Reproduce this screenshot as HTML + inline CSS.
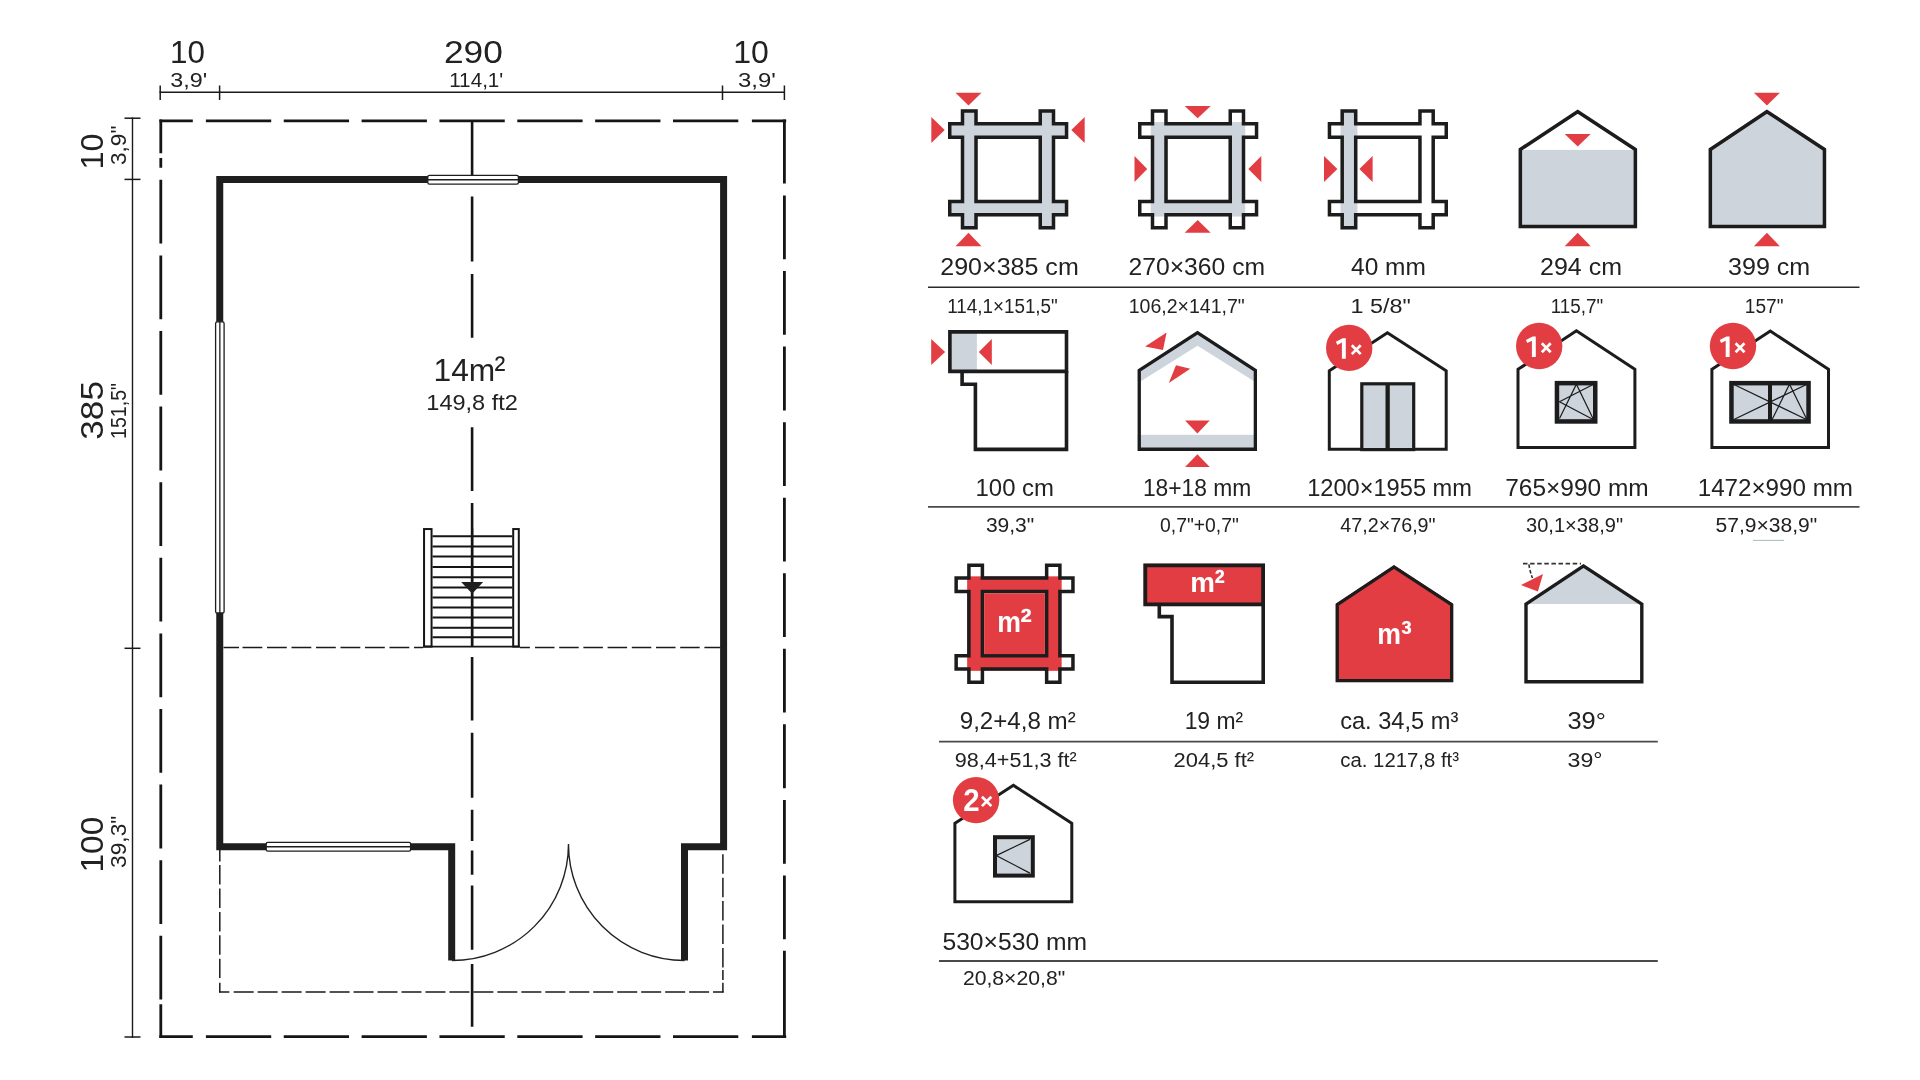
<!DOCTYPE html>
<html><head><meta charset="utf-8"><title>Floor plan</title>
<style>html,body{margin:0;padding:0;background:#fff;width:1920px;height:1080px;overflow:hidden}svg{display:block;will-change:transform}text{font-family:"Liberation Sans",sans-serif}</style>
</head><body><svg width="1920" height="1080" viewBox="0 0 1920 1080" font-family="Liberation Sans, sans-serif"><defs><clipPath id="c1"><path d="M960.75 109.3 L977.75 109.3 L977.75 122.05 L1038.5 122.05 L1038.5 109.3 L1055.25 109.3 L1055.25 122.05 L1068.3 122.05 L1068.3 139.05 L1055.25 139.05 L1055.25 199.8 L1068.3 199.8 L1068.3 216.55 L1055.25 216.55 L1055.25 229.6 L1038.5 229.6 L1038.5 216.55 L977.75 216.55 L977.75 229.6 L960.75 229.6 L960.75 216.55 L948 216.55 L948 199.8 L960.75 199.8 L960.75 139.05 L948 139.05 L948 122.05 L960.75 122.05ZM977.75 139.05H1038.5V199.8H977.75Z" clip-rule="evenodd"/></clipPath><clipPath id="c2"><path d="M1150.75 109.3 L1167.75 109.3 L1167.75 122.05 L1228.5 122.05 L1228.5 109.3 L1245.25 109.3 L1245.25 122.05 L1258.3 122.05 L1258.3 139.05 L1245.25 139.05 L1245.25 199.8 L1258.3 199.8 L1258.3 216.55 L1245.25 216.55 L1245.25 229.6 L1228.5 229.6 L1228.5 216.55 L1167.75 216.55 L1167.75 229.6 L1150.75 229.6 L1150.75 216.55 L1138 216.55 L1138 199.8 L1150.75 199.8 L1150.75 139.05 L1138 139.05 L1138 122.05 L1150.75 122.05ZM1167.75 139.05H1228.5V199.8H1167.75Z" clip-rule="evenodd"/></clipPath><clipPath id="c3"><path d="M1340.45 109.3 L1357.45 109.3 L1357.45 122.05 L1418.2 122.05 L1418.2 109.3 L1434.95 109.3 L1434.95 122.05 L1448 122.05 L1448 139.05 L1434.95 139.05 L1434.95 199.8 L1448 199.8 L1448 216.55 L1434.95 216.55 L1434.95 229.6 L1418.2 229.6 L1418.2 216.55 L1357.45 216.55 L1357.45 229.6 L1340.45 229.6 L1340.45 216.55 L1327.7 216.55 L1327.7 199.8 L1340.45 199.8 L1340.45 139.05 L1327.7 139.05 L1327.7 122.05 L1340.45 122.05ZM1357.45 139.05H1418.2V199.8H1357.45Z" clip-rule="evenodd"/></clipPath><clipPath id="c4"><path d="M1577.7 109.5L1637.1 148.5V228.3H1518.6V148.5Z" clip-rule="evenodd"/></clipPath><clipPath id="c5"><path d="M1766.9 109.5L1826.2 148.5V228.3H1708.6V148.5Z" clip-rule="evenodd"/></clipPath><clipPath id="c6"><path d="M948.1 330.1H1068.3V373.2H948.1Z" clip-rule="evenodd"/></clipPath><clipPath id="c7"><path d="M1197.5 330.8L1257 369.5V450.9H1137.6V369.5Z" clip-rule="evenodd"/></clipPath><clipPath id="c8"><path d="M1387.4 331L1447.7 369.9V450.7H1327.8V369.9Z" clip-rule="evenodd"/></clipPath><clipPath id="c9"><path d="M1576.4 329.1L1636.4 368.6V449H1516.5V368.6Z" clip-rule="evenodd"/></clipPath><clipPath id="c10"><path d="M1770.3 329.3L1830 368.6V449H1710.4V368.6Z" clip-rule="evenodd"/></clipPath><clipPath id="c11"><path d="M967.15 563.6 L984.15 563.6 L984.15 576.35 L1044.9 576.35 L1044.9 563.6 L1061.65 563.6 L1061.65 576.35 L1074.7 576.35 L1074.7 593.35 L1061.65 593.35 L1061.65 654.1 L1074.7 654.1 L1074.7 670.85 L1061.65 670.85 L1061.65 683.9 L1044.9 683.9 L1044.9 670.85 L984.15 670.85 L984.15 683.9 L967.15 683.9 L967.15 670.85 L954.4 670.85 L954.4 654.1 L967.15 654.1 L967.15 593.35 L954.4 593.35 L954.4 576.35 L967.15 576.35ZM984.15 593.35H1044.9V654.1H984.15Z" clip-rule="evenodd"/></clipPath><clipPath id="c12"><path d="M1143.4 563.4H1265V606.2H1143.4Z" clip-rule="evenodd"/></clipPath><clipPath id="c13"><path d="M1394 565.1L1453.3 603.8V682.2H1335.6V603.8Z" clip-rule="evenodd"/></clipPath><clipPath id="c14"><path d="M1583.5 564L1643.5 603.2V683.5H1524.3V603.2Z" clip-rule="evenodd"/></clipPath><clipPath id="c15"><path d="M1013.4 783.6L1073.3 822.5V903.3H953.4V822.5Z" clip-rule="evenodd"/></clipPath></defs><line x1="159.5" y1="92.2" x2="785" y2="92.2" stroke="#1a1a1a" stroke-width="1.4" stroke-linecap="butt"/><line x1="160.2" y1="85.5" x2="160.2" y2="100" stroke="#1a1a1a" stroke-width="1.5" stroke-linecap="butt"/><line x1="219.6" y1="85.5" x2="219.6" y2="100" stroke="#1a1a1a" stroke-width="1.5" stroke-linecap="butt"/><line x1="722.5" y1="85.5" x2="722.5" y2="100" stroke="#1a1a1a" stroke-width="1.5" stroke-linecap="butt"/><line x1="784.4" y1="85.5" x2="784.4" y2="100" stroke="#1a1a1a" stroke-width="1.5" stroke-linecap="butt"/><line x1="132.5" y1="117.5" x2="132.5" y2="1038" stroke="#1a1a1a" stroke-width="1.4" stroke-linecap="butt"/><line x1="124.5" y1="118.2" x2="140.5" y2="118.2" stroke="#1a1a1a" stroke-width="1.5" stroke-linecap="butt"/><line x1="124.5" y1="179.4" x2="140.5" y2="179.4" stroke="#1a1a1a" stroke-width="1.5" stroke-linecap="butt"/><line x1="124.5" y1="648.3" x2="140.5" y2="648.3" stroke="#1a1a1a" stroke-width="1.5" stroke-linecap="butt"/><line x1="124.5" y1="1037" x2="140.5" y2="1037" stroke="#1a1a1a" stroke-width="1.5" stroke-linecap="butt"/><path d="M159.4 120.8H192.8 M205.9 120.8H271.2 M283.75 120.8H349.05 M361.6 120.8H426.9 M439.45 120.8H504.75 M517.3 120.8H582.6 M595.15 120.8H660.45 M673 120.8H738.3 M751.9 120.8H786.2" stroke="#151515" stroke-width="2.8" fill="none"/><path d="M159.4 1036.7H192.8 M205.9 1036.7H271.2 M283.75 1036.7H349.05 M361.6 1036.7H426.9 M439.45 1036.7H504.75 M517.3 1036.7H582.6 M595.15 1036.7H660.45 M673 1036.7H738.3 M751.9 1036.7H786.2" stroke="#151515" stroke-width="2.8" fill="none"/><path d="M160.8 119.4V153.3 M160.8 158.1V167.8 M160.8 179.8V243.6 M160.8 255.4V319.2 M160.8 331V394.8 M160.8 406.6V470.4 M160.8 482.2V546 M160.8 557.8V621.6 M160.8 633.4V697.2 M160.8 709V772.8 M160.8 784.6V848.4 M160.8 860.2V924 M160.8 935.8V999.6 M160.8 1004.3V1038.1" stroke="#151515" stroke-width="2.8" fill="none"/><path d="M784.4 119.4V183.4 M784.4 195.5V259.3 M784.4 271.05V334.85 M784.4 346.6V410.4 M784.4 422.15V485.95 M784.4 497.7V561.5 M784.4 573.25V637.05 M784.4 648.8V712.6 M784.4 724.35V788.15 M784.4 799.9V863.7 M784.4 875.45V939.25 M784.4 950.8V1038.1" stroke="#151515" stroke-width="2.8" fill="none"/><path d="M472.1 120.8V175.5 M472.1 196.4V261.4 M472.1 273.9V337.7 M472.1 427.2V491 M472.1 503V646.5 M472.1 656.9V720.6 M472.1 732.7V797.7 M472.1 809.7V841 M472.1 850.6V874.7 M472.1 885.5V949.7 M472.1 964V1026.7" stroke="#151515" stroke-width="2.6" fill="none"/><path d="M223.5 647.5H239 M242.5 647.5H262.3 M267 647.5H286.8 M291.5 647.5H311.3 M316 647.5H335.8 M340.5 647.5H360.3 M365 647.5H384.8 M389.5 647.5H409.3 M414 647.5H423 M520 647.5H529.9 M535 647.5H554.5 M559.2 647.5H578.7 M583.4 647.5H602.9 M607.6 647.5H627.1 M631.8 647.5H651.3 M656 647.5H675.5 M680.2 647.5H699.7 M704.4 647.5H720.5" stroke="#1a1a1a" stroke-width="1.5" fill="none"/><path d="M219.8 850V861.5 M219.8 865.1V884.6 M219.8 888.5V908 M219.8 911.9V931.4 M219.8 935.3V954.8 M219.8 958.7V978 M219.8 982.8V992.6" stroke="#1a1a1a" stroke-width="1.5" fill="none"/><path d="M722.9 854.3V873.8 M722.9 877.7V897.2 M722.9 901.1V920.6 M722.9 924.5V944 M722.9 947.9V967.4 M722.9 969.9V979.9 M722.9 982.8V992.6" stroke="#1a1a1a" stroke-width="1.5" fill="none"/><path d="M219.1 991.9H229.3 M233.7 991.9H253.7 M257.67 991.9H277.67 M281.64 991.9H301.64 M305.61 991.9H325.61 M329.58 991.9H349.58 M353.55 991.9H373.55 M377.52 991.9H397.52 M401.49 991.9H421.49 M425.46 991.9H445.46 M449.43 991.9H469.43 M473.4 991.9H493.4 M497.37 991.9H517.37 M521.34 991.9H541.34 M545.31 991.9H565.31 M569.28 991.9H589.28 M593.25 991.9H613.25 M617.22 991.9H637.22 M641.19 991.9H661.19 M665.16 991.9H685.16 M689.13 991.9H709.13 M713 991.9H723.6" stroke="#1a1a1a" stroke-width="1.5" fill="none"/><path d="M451.7 960.5V846.7H219.75V179.4H723.6V846.7H684.5V960.5" fill="none" stroke="#1e1e1e" stroke-width="7" stroke-linejoin="miter"/><rect x="427.8" y="175.3" width="90.6" height="8.9" rx="1.6" fill="#fff" stroke="#1e1e1e" stroke-width="1.3"/><line x1="427.8" y1="179.75" x2="518.4" y2="179.75" stroke="#1e1e1e" stroke-width="1.3" stroke-linecap="butt"/><rect x="215.6" y="321.8" width="8.5" height="291.2" rx="1.6" fill="#fff" stroke="#1e1e1e" stroke-width="1.3"/><line x1="219.85" y1="321.8" x2="219.85" y2="613" stroke="#1e1e1e" stroke-width="1.3" stroke-linecap="butt"/><rect x="266.2" y="842.4" width="144.4" height="8.7" rx="1.6" fill="#fff" stroke="#1e1e1e" stroke-width="1.3"/><line x1="266.2" y1="846.75" x2="410.6" y2="846.75" stroke="#1e1e1e" stroke-width="1.3" stroke-linecap="butt"/><path d="M452 960.5A116.5 116.5 0 0 0 568.5 844M568.5 844A116 116 0 0 0 684.5 960.5" fill="none" stroke="#222" stroke-width="1.4"/><rect x="424.05" y="529.05" width="7.5" height="117.5" fill="#fff" stroke="#151515" stroke-width="2"/><rect x="513.2" y="529.05" width="5.6" height="117.5" fill="#fff" stroke="#151515" stroke-width="2"/><line x1="432.5" y1="536.25" x2="512.3" y2="536.25" stroke="#151515" stroke-width="2" stroke-linecap="butt"/><line x1="432.5" y1="546.5" x2="512.3" y2="546.5" stroke="#151515" stroke-width="2" stroke-linecap="butt"/><line x1="432.5" y1="556.6" x2="512.3" y2="556.6" stroke="#151515" stroke-width="2" stroke-linecap="butt"/><line x1="432.5" y1="566.9" x2="512.3" y2="566.9" stroke="#151515" stroke-width="2" stroke-linecap="butt"/><line x1="432.5" y1="577.25" x2="512.3" y2="577.25" stroke="#151515" stroke-width="2" stroke-linecap="butt"/><line x1="432.5" y1="587.5" x2="512.3" y2="587.5" stroke="#151515" stroke-width="2" stroke-linecap="butt"/><line x1="432.5" y1="597.5" x2="512.3" y2="597.5" stroke="#151515" stroke-width="2" stroke-linecap="butt"/><line x1="432.5" y1="607.5" x2="512.3" y2="607.5" stroke="#151515" stroke-width="2" stroke-linecap="butt"/><line x1="432.5" y1="617.5" x2="512.3" y2="617.5" stroke="#151515" stroke-width="2" stroke-linecap="butt"/><line x1="432.5" y1="627.75" x2="512.3" y2="627.75" stroke="#151515" stroke-width="2" stroke-linecap="butt"/><line x1="432.5" y1="637.25" x2="512.3" y2="637.25" stroke="#151515" stroke-width="2" stroke-linecap="butt"/><line x1="423" y1="646.6" x2="520" y2="646.6" stroke="#151515" stroke-width="1.9" stroke-linecap="butt"/><path d="M472.1 528V647" stroke="#151515" stroke-width="2.2" fill="none"/><polygon points="461.2,581.9 483.2,581.9 472.2,593.8" fill="#1e1e1e"/><text x="169.98" y="63.3" font-size="30.5" fill="#222222" font-weight="normal" textLength="34.94" lengthAdjust="spacingAndGlyphs">10</text><text x="170.36" y="86.7" font-size="21" fill="#222222" font-weight="normal" textLength="36.88" lengthAdjust="spacingAndGlyphs">3,9'</text><text x="443.98" y="63.3" font-size="30.5" fill="#222222" font-weight="normal" textLength="58.94" lengthAdjust="spacingAndGlyphs">290</text><text x="449.16" y="86.7" font-size="21" fill="#222222" font-weight="normal" textLength="54.18" lengthAdjust="spacingAndGlyphs">114,1'</text><text x="733.28" y="63.3" font-size="30.5" fill="#222222" font-weight="normal" textLength="35.64" lengthAdjust="spacingAndGlyphs">10</text><text x="738.06" y="86.7" font-size="21" fill="#222222" font-weight="normal" textLength="37.78" lengthAdjust="spacingAndGlyphs">3,9'</text><text transform="translate(102.8 151.4) rotate(-90)" x="-18" y="0" font-size="32" fill="#222222" textLength="36" lengthAdjust="spacingAndGlyphs">10</text><text transform="translate(125.6 145.3) rotate(-90)" x="-19.7" y="0" font-size="22" fill="#222222" textLength="39.4" lengthAdjust="spacingAndGlyphs">3,9"</text><text transform="translate(102.6 410.35) rotate(-90)" x="-29.35" y="0" font-size="32" fill="#222222" textLength="58.7" lengthAdjust="spacingAndGlyphs">385</text><text transform="translate(125.6 410.95) rotate(-90)" x="-27.95" y="0" font-size="22" fill="#222222" textLength="55.9" lengthAdjust="spacingAndGlyphs">151,5"</text><text transform="translate(102.6 844.6) rotate(-90)" x="-28" y="0" font-size="32" fill="#222222" textLength="56" lengthAdjust="spacingAndGlyphs">100</text><text transform="translate(125.6 841.8) rotate(-90)" x="-26.1" y="0" font-size="22" fill="#222222" textLength="52.2" lengthAdjust="spacingAndGlyphs">39,3"</text><text x="433.54" y="380.7" font-size="31.5" fill="#222222" font-weight="normal" textLength="61.72" lengthAdjust="spacingAndGlyphs">14m</text><text transform="translate(494.44 381.07) scale(0.907 1)" x="0" y="0" font-size="36.12" font-weight="normal" fill="#222222">²</text><text x="426.32" y="409.9" font-size="22" fill="#222222" font-weight="normal" textLength="91.56" lengthAdjust="spacingAndGlyphs">149,8 ft2</text><line x1="928" y1="287.2" x2="1859.5" y2="287.2" stroke="#2a2a2a" stroke-width="1.6" stroke-linecap="butt"/><line x1="928" y1="506.9" x2="1859.5" y2="506.9" stroke="#4a4a4a" stroke-width="1.8" stroke-linecap="butt"/><line x1="939" y1="741.6" x2="1657.8" y2="741.6" stroke="#4a4a4a" stroke-width="1.8" stroke-linecap="butt"/><line x1="939" y1="961" x2="1657.8" y2="961" stroke="#4a4a4a" stroke-width="1.8" stroke-linecap="butt"/><g clip-path="url(#c1)"><path d="M960.75 109.3 L977.75 109.3 L977.75 122.05 L1038.5 122.05 L1038.5 109.3 L1055.25 109.3 L1055.25 122.05 L1068.3 122.05 L1068.3 139.05 L1055.25 139.05 L1055.25 199.8 L1068.3 199.8 L1068.3 216.55 L1055.25 216.55 L1055.25 229.6 L1038.5 229.6 L1038.5 216.55 L977.75 216.55 L977.75 229.6 L960.75 229.6 L960.75 216.55 L948 216.55 L948 199.8 L960.75 199.8 L960.75 139.05 L948 139.05 L948 122.05 L960.75 122.05ZM977.75 139.05H1038.5V199.8H977.75Z" fill="#ced4dc" fill-rule="evenodd"/><path d="M960.75 109.3 L977.75 109.3 L977.75 122.05 L1038.5 122.05 L1038.5 109.3 L1055.25 109.3 L1055.25 122.05 L1068.3 122.05 L1068.3 139.05 L1055.25 139.05 L1055.25 199.8 L1068.3 199.8 L1068.3 216.55 L1055.25 216.55 L1055.25 229.6 L1038.5 229.6 L1038.5 216.55 L977.75 216.55 L977.75 229.6 L960.75 229.6 L960.75 216.55 L948 216.55 L948 199.8 L960.75 199.8 L960.75 139.05 L948 139.05 L948 122.05 L960.75 122.05ZM977.75 139.05H1038.5V199.8H977.75Z" fill="none" stroke="#1c1c1c" stroke-width="7"/></g><polygon points="955.5,92.7 981.5,92.7 968.5,105.5" fill="#e23d43"/><polygon points="955.5,246.2 981.5,246.2 968.5,232.7" fill="#e23d43"/><polygon points="931.3,117 931.3,143 944.7,130" fill="#e23d43"/><polygon points="1084.7,117 1084.7,143 1071.3,130" fill="#e23d43"/><g clip-path="url(#c2)"><path d="M1150.75 109.3 L1167.75 109.3 L1167.75 122.05 L1228.5 122.05 L1228.5 109.3 L1245.25 109.3 L1245.25 122.05 L1258.3 122.05 L1258.3 139.05 L1245.25 139.05 L1245.25 199.8 L1258.3 199.8 L1258.3 216.55 L1245.25 216.55 L1245.25 229.6 L1228.5 229.6 L1228.5 216.55 L1167.75 216.55 L1167.75 229.6 L1150.75 229.6 L1150.75 216.55 L1138 216.55 L1138 199.8 L1150.75 199.8 L1150.75 139.05 L1138 139.05 L1138 122.05 L1150.75 122.05ZM1167.75 139.05H1228.5V199.8H1167.75Z" fill="#ffffff" fill-rule="evenodd"/><rect x="1150.75" y="122.05" width="94.5" height="94.5" fill="#ced4dc"/><path d="M1150.75 109.3 L1167.75 109.3 L1167.75 122.05 L1228.5 122.05 L1228.5 109.3 L1245.25 109.3 L1245.25 122.05 L1258.3 122.05 L1258.3 139.05 L1245.25 139.05 L1245.25 199.8 L1258.3 199.8 L1258.3 216.55 L1245.25 216.55 L1245.25 229.6 L1228.5 229.6 L1228.5 216.55 L1167.75 216.55 L1167.75 229.6 L1150.75 229.6 L1150.75 216.55 L1138 216.55 L1138 199.8 L1150.75 199.8 L1150.75 139.05 L1138 139.05 L1138 122.05 L1150.75 122.05ZM1167.75 139.05H1228.5V199.8H1167.75Z" fill="none" stroke="#1c1c1c" stroke-width="7"/></g><polygon points="1184.7,106 1210.7,106 1197.7,118.2" fill="#e23d43"/><polygon points="1184.7,232.7 1210.7,232.7 1197.7,220" fill="#e23d43"/><polygon points="1134.5,156 1134.5,182 1147.2,169" fill="#e23d43"/><polygon points="1261.3,156 1261.3,182 1248.3,169" fill="#e23d43"/><g clip-path="url(#c3)"><path d="M1340.45 109.3 L1357.45 109.3 L1357.45 122.05 L1418.2 122.05 L1418.2 109.3 L1434.95 109.3 L1434.95 122.05 L1448 122.05 L1448 139.05 L1434.95 139.05 L1434.95 199.8 L1448 199.8 L1448 216.55 L1434.95 216.55 L1434.95 229.6 L1418.2 229.6 L1418.2 216.55 L1357.45 216.55 L1357.45 229.6 L1340.45 229.6 L1340.45 216.55 L1327.7 216.55 L1327.7 199.8 L1340.45 199.8 L1340.45 139.05 L1327.7 139.05 L1327.7 122.05 L1340.45 122.05ZM1357.45 139.05H1418.2V199.8H1357.45Z" fill="#ffffff" fill-rule="evenodd"/><rect x="1340.45" y="109.3" width="17" height="120.3" fill="#ced4dc"/><path d="M1340.45 109.3 L1357.45 109.3 L1357.45 122.05 L1418.2 122.05 L1418.2 109.3 L1434.95 109.3 L1434.95 122.05 L1448 122.05 L1448 139.05 L1434.95 139.05 L1434.95 199.8 L1448 199.8 L1448 216.55 L1434.95 216.55 L1434.95 229.6 L1418.2 229.6 L1418.2 216.55 L1357.45 216.55 L1357.45 229.6 L1340.45 229.6 L1340.45 216.55 L1327.7 216.55 L1327.7 199.8 L1340.45 199.8 L1340.45 139.05 L1327.7 139.05 L1327.7 122.05 L1340.45 122.05ZM1357.45 139.05H1418.2V199.8H1357.45Z" fill="none" stroke="#1c1c1c" stroke-width="7"/></g><polygon points="1324,156.1 1324,182.1 1337.4,169.1" fill="#e23d43"/><polygon points="1372.6,156.1 1372.6,182.1 1359.4,169.1" fill="#e23d43"/><g clip-path="url(#c4)"><path d="M1577.7 109.5L1637.1 148.5V228.3H1518.6V148.5Z" fill="#ffffff" fill-rule="evenodd"/><rect x="1500" y="149.9" width="160" height="90" fill="#ced4dc"/><path d="M1577.7 109.5L1637.1 148.5V228.3H1518.6V148.5Z" fill="none" stroke="#1c1c1c" stroke-width="7"/></g><polygon points="1564.7,133.9 1590.7,133.9 1577.7,146.4" fill="#e23d43"/><polygon points="1564.7,246.2 1590.7,246.2 1577.7,232.7" fill="#e23d43"/><g clip-path="url(#c5)"><path d="M1766.9 109.5L1826.2 148.5V228.3H1708.6V148.5Z" fill="#ced4dc" fill-rule="evenodd"/><path d="M1766.9 109.5L1826.2 148.5V228.3H1708.6V148.5Z" fill="none" stroke="#1c1c1c" stroke-width="7"/></g><polygon points="1753.9,92.7 1779.9,92.7 1766.9,105.5" fill="#e23d43"/><polygon points="1753.9,246.2 1779.9,246.2 1766.9,232.7" fill="#e23d43"/><text x="940.23" y="275.1" font-size="24.3" fill="#222222" font-weight="normal" textLength="138.54" lengthAdjust="spacingAndGlyphs">290×385 cm</text><text x="947.2" y="312.6" font-size="20" fill="#222222" font-weight="normal" textLength="110.6" lengthAdjust="spacingAndGlyphs">114,1×151,5"</text><text x="1128.43" y="275.1" font-size="24.3" fill="#222222" font-weight="normal" textLength="136.64" lengthAdjust="spacingAndGlyphs">270×360 cm</text><text x="1128.7" y="312.6" font-size="20" fill="#222222" font-weight="normal" textLength="116.1" lengthAdjust="spacingAndGlyphs">106,2×141,7"</text><text x="1351.03" y="275.1" font-size="24.3" fill="#222222" font-weight="normal" textLength="74.84" lengthAdjust="spacingAndGlyphs">40 mm</text><text x="1350.5" y="312.6" font-size="20" fill="#222222" font-weight="normal" textLength="60.2" lengthAdjust="spacingAndGlyphs">1  5/8"</text><text x="1540.03" y="275.1" font-size="24.3" fill="#222222" font-weight="normal" textLength="81.94" lengthAdjust="spacingAndGlyphs">294 cm</text><text x="1550.7" y="312.6" font-size="20" fill="#222222" font-weight="normal" textLength="52.5" lengthAdjust="spacingAndGlyphs">115,7"</text><text x="1728.03" y="275.1" font-size="24.3" fill="#222222" font-weight="normal" textLength="82.24" lengthAdjust="spacingAndGlyphs">399 cm</text><text x="1744.8" y="312.6" font-size="20" fill="#222222" font-weight="normal" textLength="38.7" lengthAdjust="spacingAndGlyphs">157"</text><g clip-path="url(#c6)"><path d="M948.1 330.1H1068.3V373.2H948.1Z" fill="#ffffff" fill-rule="evenodd"/><rect x="948" y="330" width="28.9" height="43" fill="#ced4dc"/><path d="M948.1 330.1H1068.3V373.2H948.1Z" fill="none" stroke="#1c1c1c" stroke-width="7.2"/></g><path d="M962.1 371V384.3H975.4V449.4H1066.5V371" fill="none" stroke="#1c1c1c" stroke-width="3.6"/><polygon points="931.2,339.1 931.2,365.1 945.1,352.1" fill="#e23d43"/><polygon points="991.8,339.1 991.8,365.1 978.8,352.1" fill="#e23d43"/><g clip-path="url(#c7)"><path d="M1197.5 330.8L1257 369.5V450.9H1137.6V369.5Z" fill="#ffffff" fill-rule="evenodd"/><path d="M1100 350L1197.5 290L1300 350V381.7L1254.9 381.7L1197.5 345.8L1140 381.7L1100 381.7Z" fill="#ced4dc"/><rect x="1100" y="434.8" width="200" height="20" fill="#ced4dc"/><path d="M1197.5 330.8L1257 369.5V450.9H1137.6V369.5Z" fill="none" stroke="#1c1c1c" stroke-width="6.6"/></g><polygon points="1145.1,346.6 1166.6,332.6 1163,350.1" fill="#e23d43"/><polygon points="1168.8,382.9 1176,365.2 1190.3,368.8" fill="#e23d43"/><polygon points="1185.05,420.5 1209.75,420.5 1197.4,433.4" fill="#e23d43"/><polygon points="1185.05,467.1 1209.75,467.1 1197.4,454.2" fill="#e23d43"/><g clip-path="url(#c8)"><path d="M1387.4 331L1447.7 369.9V450.7H1327.8V369.9Z" fill="#ffffff" fill-rule="evenodd"/><path d="M1387.4 331L1447.7 369.9V450.7H1327.8V369.9Z" fill="none" stroke="#1c1c1c" stroke-width="6"/></g><rect x="1361.8" y="383.8" width="51.9" height="65.8" fill="#ced4dc" stroke="#1c1c1c" stroke-width="3.2"/><rect x="1385.5" y="383" width="4.3" height="67" fill="#1c1c1c"/><circle cx="1349.2" cy="347.9" r="23.2" fill="#e23d43"/><polygon points="1345.8,338.3 1345.8,358.8 1341.9,358.8 1341.9,342.6 1337.3,345 1335.9,341.8 1342.6,338.3" fill="#fff"/><path d="M1351.81 345.21L1360.69 354.09M1351.81 354.09L1360.69 345.21" stroke="#fff" stroke-width="2.7" fill="none"/><g clip-path="url(#c9)"><path d="M1576.4 329.1L1636.4 368.6V449H1516.5V368.6Z" fill="#ffffff" fill-rule="evenodd"/><path d="M1576.4 329.1L1636.4 368.6V449H1516.5V368.6Z" fill="none" stroke="#1c1c1c" stroke-width="6"/></g><rect x="1556.95" y="383.15" width="38.3" height="38.3" fill="#ced4dc" stroke="#1c1c1c" stroke-width="4.5"/><path d="M1593.6 384.2L1559.5 401.7L1593.6 419.8M1559.5 418.5L1576.4 384.2L1593.6 419.8" fill="none" stroke="#1c1c1c" stroke-width="1.2"/><circle cx="1539.2" cy="346" r="23.2" fill="#e23d43"/><polygon points="1535.8,336.4 1535.8,356.9 1531.9,356.9 1531.9,340.7 1527.3,343.1 1525.9,339.9 1532.6,336.4" fill="#fff"/><path d="M1541.81 343.31L1550.69 352.19M1541.81 352.19L1550.69 343.31" stroke="#fff" stroke-width="2.7" fill="none"/><g clip-path="url(#c10)"><path d="M1770.3 329.3L1830 368.6V449H1710.4V368.6Z" fill="#ffffff" fill-rule="evenodd"/><path d="M1770.3 329.3L1830 368.6V449H1710.4V368.6Z" fill="none" stroke="#1c1c1c" stroke-width="6"/></g><rect x="1731.45" y="383.15" width="77.1" height="38.3" fill="#ced4dc" stroke="#1c1c1c" stroke-width="4.5"/><rect x="1768" y="381" width="4" height="42" fill="#1c1c1c"/><path d="M1733.4 384.2L1807 419.8M1733.4 419.8L1807 384.2M1772 419.8L1789.5 384.2L1807 419.8" fill="none" stroke="#1c1c1c" stroke-width="1.2"/><circle cx="1733" cy="346" r="23.2" fill="#e23d43"/><polygon points="1729.6,336.4 1729.6,356.9 1725.7,356.9 1725.7,340.7 1721.1,343.1 1719.7,339.9 1726.4,336.4" fill="#fff"/><path d="M1735.61 343.31L1744.49 352.19M1735.61 352.19L1744.49 343.31" stroke="#fff" stroke-width="2.7" fill="none"/><text x="975.53" y="495.7" font-size="24.3" fill="#222222" font-weight="normal" textLength="78.54" lengthAdjust="spacingAndGlyphs">100 cm</text><text x="985.9" y="532" font-size="20" fill="#222222" font-weight="normal" textLength="48.4" lengthAdjust="spacingAndGlyphs">39,3"</text><text x="1142.93" y="495.7" font-size="24.3" fill="#222222" font-weight="normal" textLength="108.44" lengthAdjust="spacingAndGlyphs">18+18 mm</text><text x="1160.1" y="532" font-size="20" fill="#222222" font-weight="normal" textLength="78.7" lengthAdjust="spacingAndGlyphs">0,7"+0,7"</text><text x="1307.13" y="495.7" font-size="24.3" fill="#222222" font-weight="normal" textLength="164.84" lengthAdjust="spacingAndGlyphs">1200×1955 mm</text><text x="1340.3" y="532" font-size="20" fill="#222222" font-weight="normal" textLength="95.3" lengthAdjust="spacingAndGlyphs">47,2×76,9"</text><text x="1505.23" y="495.7" font-size="24.3" fill="#222222" font-weight="normal" textLength="143.54" lengthAdjust="spacingAndGlyphs">765×990 mm</text><text x="1526" y="532" font-size="20" fill="#222222" font-weight="normal" textLength="97.1" lengthAdjust="spacingAndGlyphs">30,1×38,9"</text><text x="1697.73" y="495.7" font-size="24.3" fill="#222222" font-weight="normal" textLength="155.24" lengthAdjust="spacingAndGlyphs">1472×990 mm</text><text x="1715.6" y="532" font-size="20" fill="#222222" font-weight="normal" textLength="101.7" lengthAdjust="spacingAndGlyphs">57,9×38,9"</text><line x1="1753" y1="540.4" x2="1784" y2="540.4" stroke="#a9c2ba" stroke-width="1.1" stroke-linecap="butt"/><g clip-path="url(#c11)"><path d="M967.15 563.6 L984.15 563.6 L984.15 576.35 L1044.9 576.35 L1044.9 563.6 L1061.65 563.6 L1061.65 576.35 L1074.7 576.35 L1074.7 593.35 L1061.65 593.35 L1061.65 654.1 L1074.7 654.1 L1074.7 670.85 L1061.65 670.85 L1061.65 683.9 L1044.9 683.9 L1044.9 670.85 L984.15 670.85 L984.15 683.9 L967.15 683.9 L967.15 670.85 L954.4 670.85 L954.4 654.1 L967.15 654.1 L967.15 593.35 L954.4 593.35 L954.4 576.35 L967.15 576.35ZM984.15 593.35H1044.9V654.1H984.15Z" fill="#ffffff" fill-rule="evenodd"/><rect x="967.15" y="576.35" width="94.5" height="94.5" fill="#e23d43"/><path d="M967.15 563.6 L984.15 563.6 L984.15 576.35 L1044.9 576.35 L1044.9 563.6 L1061.65 563.6 L1061.65 576.35 L1074.7 576.35 L1074.7 593.35 L1061.65 593.35 L1061.65 654.1 L1074.7 654.1 L1074.7 670.85 L1061.65 670.85 L1061.65 683.9 L1044.9 683.9 L1044.9 670.85 L984.15 670.85 L984.15 683.9 L967.15 683.9 L967.15 670.85 L954.4 670.85 L954.4 654.1 L967.15 654.1 L967.15 593.35 L954.4 593.35 L954.4 576.35 L967.15 576.35ZM984.15 593.35H1044.9V654.1H984.15Z" fill="none" stroke="#1c1c1c" stroke-width="7"/></g><rect x="984.15" y="593.35" width="60.75" height="60.75" fill="#e23d43"/><text transform="translate(997.14 632) scale(0.923 1)" x="0" y="0" font-size="28.94" font-weight="bold" fill="#fff">m</text><text transform="translate(1020.23 634.6) scale(0.936 1)" x="0" y="0" font-size="37.36" font-weight="bold" fill="#fff">²</text><g clip-path="url(#c12)"><path d="M1143.4 563.4H1265V606.2H1143.4Z" fill="#e23d43" fill-rule="evenodd"/><path d="M1143.4 563.4H1265V606.2H1143.4Z" fill="none" stroke="#1c1c1c" stroke-width="7.6"/></g><path d="M1159.3 604V616.6H1172V682.2H1263.2V604" fill="none" stroke="#1c1c1c" stroke-width="3.6"/><text transform="translate(1190.17 592.2) scale(1.025 1)" x="0" y="0" font-size="27.09" font-weight="bold" fill="#fff">m</text><text transform="translate(1214.42 596.11) scale(0.839 1)" x="0" y="0" font-size="37.08" font-weight="bold" fill="#fff">²</text><g clip-path="url(#c13)"><path d="M1394 565.1L1453.3 603.8V682.2H1335.6V603.8Z" fill="#e23d43" fill-rule="evenodd"/><path d="M1394 565.1L1453.3 603.8V682.2H1335.6V603.8Z" fill="none" stroke="#1c1c1c" stroke-width="6.6"/></g><text transform="translate(1377.14 643.9) scale(0.894 1)" x="0" y="0" font-size="29.87" font-weight="bold" fill="#fff">m</text><text transform="translate(1400.98 646.19) scale(0.925 1)" x="0" y="0" font-size="35.18" font-weight="bold" fill="#fff">³</text><g clip-path="url(#c14)"><path d="M1583.5 564L1643.5 603.2V683.5H1524.3V603.2Z" fill="#ffffff" fill-rule="evenodd"/><rect x="1500" y="540" width="160" height="64" fill="#ced4dc"/><path d="M1583.5 564L1643.5 603.2V683.5H1524.3V603.2Z" fill="none" stroke="#1c1c1c" stroke-width="6.8"/></g><path d="M1523 563.6H1581" stroke="#333" stroke-width="1.6" stroke-dasharray="4.5 2.6" fill="none"/><path d="M1528.9 564.3Q1530 572 1532.5 578" stroke="#333" stroke-width="1.6" stroke-dasharray="3.5 2" fill="none"/><polygon points="1521,585 1543,574 1537.9,591.5" fill="#e23d43"/><text x="959.73" y="729.3" font-size="24.3" fill="#222222" font-weight="normal" textLength="116.04" lengthAdjust="spacingAndGlyphs">9,2+4,8 m²</text><text x="954.8" y="767" font-size="20" fill="#222222" font-weight="normal" textLength="121.9" lengthAdjust="spacingAndGlyphs">98,4+51,3 ft²</text><text x="1184.63" y="729.3" font-size="24.3" fill="#222222" font-weight="normal" textLength="58.54" lengthAdjust="spacingAndGlyphs">19 m²</text><text x="1173.6" y="767" font-size="20" fill="#222222" font-weight="normal" textLength="80.5" lengthAdjust="spacingAndGlyphs">204,5 ft²</text><text x="1340.13" y="729.3" font-size="24.3" fill="#222222" font-weight="normal" textLength="118.14" lengthAdjust="spacingAndGlyphs">ca. 34,5 m³</text><text x="1340.3" y="767" font-size="20" fill="#222222" font-weight="normal" textLength="118.7" lengthAdjust="spacingAndGlyphs">ca. 1217,8 ft³</text><text x="1567.43" y="729.3" font-size="24.3" fill="#222222" font-weight="normal" textLength="38.44" lengthAdjust="spacingAndGlyphs">39°</text><text x="1567.6" y="767" font-size="20" fill="#222222" font-weight="normal" textLength="35" lengthAdjust="spacingAndGlyphs">39°</text><g clip-path="url(#c15)"><path d="M1013.4 783.6L1073.3 822.5V903.3H953.4V822.5Z" fill="#ffffff" fill-rule="evenodd"/><path d="M1013.4 783.6L1073.3 822.5V903.3H953.4V822.5Z" fill="none" stroke="#1c1c1c" stroke-width="6"/></g><rect x="995" y="837.2" width="37.8" height="38.4" fill="#ced4dc" stroke="#1c1c1c" stroke-width="4"/><path d="M1029.9 839.4L996.2 855.6L1029.9 873.1" fill="none" stroke="#1c1c1c" stroke-width="1.2"/><circle cx="976.1" cy="800.1" r="23.2" fill="#e23d43"/><text transform="translate(963.17 811) scale(0.958 1)" x="0" y="0" font-size="30.66" font-weight="bold" fill="#fff">2</text><path d="M981.95 796.7L991.35 806.1M981.95 806.1L991.35 796.7" stroke="#fff" stroke-width="2.7" fill="none"/><text x="942.43" y="949.6" font-size="24.3" fill="#222222" font-weight="normal" textLength="144.64" lengthAdjust="spacingAndGlyphs">530×530 mm</text><text x="962.9" y="985.1" font-size="20" fill="#222222" font-weight="normal" textLength="102.3" lengthAdjust="spacingAndGlyphs">20,8×20,8"</text></svg></body></html>
